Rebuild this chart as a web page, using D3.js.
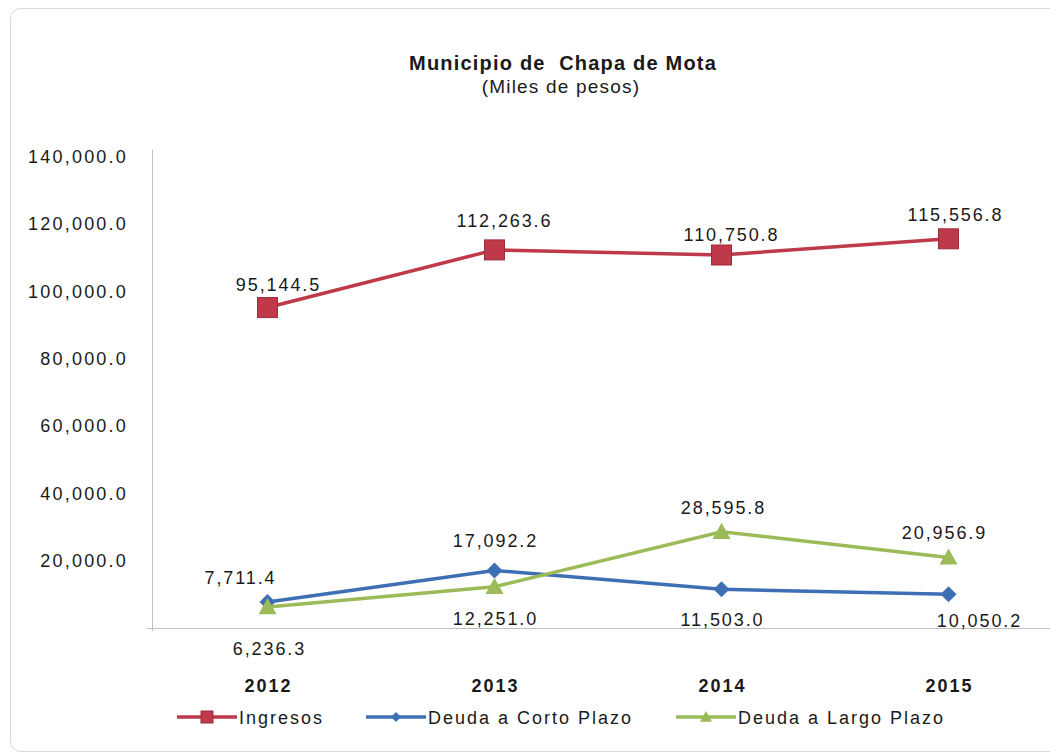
<!DOCTYPE html>
<html>
<head>
<meta charset="utf-8">
<script src="https://cdn.jsdelivr.net/npm/d3@7"></script>
<style>
  body { margin: 0; background: #fff; }
  text { font-family: "Liberation Sans", Arial, sans-serif; fill: #1a1a1a; }
</style>
</head>
<body>
<script>
var width = 1050, height = 755;

var years = ["2012", "2013", "2014", "2015"];
var ingresos = [95144.5, 112263.6, 110750.8, 115556.8];
var deudaCorto = [7711.4, 17092.2, 11503.0, 10050.2];
var deudaLargo = [6236.3, 12251.0, 28595.8, 20956.9];
var yTicks = [20000, 40000, 60000, 80000, 100000, 120000, 140000];
var seriesNames = ["Ingresos", "Deuda a Corto Plazo", "Deuda a Largo Plazo"];

// label offsets from each point [dx, dy to baseline]
var labelOffsets = [
  [[10, -17], [9, -23], [9, -14], [6, -18]],
  [[-28, -18], [0, -23], [0, 37], [30, 33]],
  [[1, 48], [0, 38], [1, -18], [-5, -18]]
];

var colors = ["#be3a4a", "#3e6fb5", "#9bbb59"];
var fmt = d3.format(",.1f");

const svg = d3.select("body").append("svg").attr("width", width).attr("height", height);

// outer frame
svg.append("rect").attr("x", 10.5).attr("y", 8.5).attr("width", 1060).attr("height", 743)
  .attr("rx", 10).attr("fill", "#fff").attr("stroke", "#d9d9d9");

svg.append("text").attr("x", 563).attr("y", 70).attr("text-anchor", "middle")
  .style("font-size", "20px").style("font-weight", "bold").style("letter-spacing", "1.2px")
  .style("white-space", "pre").text("Municipio de  Chapa de Mota");
svg.append("text").attr("x", 561).attr("y", 93).attr("text-anchor", "middle")
  .style("font-size", "19px").style("letter-spacing", "1.2px")
  .text("(Miles de pesos)");

const x = d3.scalePoint().domain(years).range([154, 1062]).padding(0.5);
const y = d3.scaleLinear().domain([0, 140000]).range([628, 156.5]);

// axes
svg.append("line").attr("x1", 152.5).attr("x2", 152.5).attr("y1", 150).attr("y2", 631)
  .attr("stroke", "#bfbfbf");
svg.append("line").attr("x1", 147).attr("x2", 1050).attr("y1", 628.5).attr("y2", 628.5)
  .attr("stroke", "#bfbfbf");

svg.selectAll(".ytick").data(yTicks).enter().append("text")
  .attr("class", "ytick")
  .attr("x", 128).attr("y", d => y(d) + 6.5)
  .attr("text-anchor", "end")
  .style("font-size", "18px").style("letter-spacing", "2.2px")
  .text(d => fmt(d));

svg.selectAll(".xtick").data(years).enter().append("text")
  .attr("class", "xtick")
  .attr("x", d => x(d) + 1).attr("y", 692)
  .attr("text-anchor", "middle")
  .style("font-size", "18px").style("font-weight", "bold").style("letter-spacing", "2px")
  .text(d => d);

var allSeries = [ingresos, deudaCorto, deudaLargo];
var line = d3.line().x((d, i) => x(years[i])).y(d => y(d));

function marker(g, k, cx, cy, s) {
  if (k === 0) {
    g.append("rect").attr("x", cx - s).attr("y", cy - s).attr("width", 2 * s).attr("height", 2 * s)
      .attr("fill", colors[0]).attr("stroke", "#9e2a3a").attr("stroke-width", 1);
  } else if (k === 1) {
    g.append("path").attr("d", `M${cx},${cy - s}L${cx + s},${cy}L${cx},${cy + s}L${cx - s},${cy}Z`)
      .attr("fill", colors[1]);
  } else {
    g.append("path").attr("d", `M${cx},${cy - s}L${cx + s},${cy + s * 0.8}L${cx - s},${cy + s * 0.8}Z`)
      .attr("fill", colors[2]);
  }
}

var sizes = [10, 8, 9];
var drawOrder = [1, 2, 0];
drawOrder.forEach(k => {
  var g = svg.append("g");
  g.append("path").datum(allSeries[k]).attr("d", line)
    .attr("fill", "none").attr("stroke", colors[k]).attr("stroke-width", 3.5);
  allSeries[k].forEach((v, i) => marker(g, k, x(years[i]), y(v), sizes[k]));
});

allSeries.forEach((vals, k) => {
  vals.forEach((v, i) => {
    var off = labelOffsets[k][i];
    svg.append("text")
      .attr("x", x(years[i]) + off[0] + 1).attr("y", y(v) + off[1])
      .attr("text-anchor", "middle")
      .style("font-size", "18px").style("letter-spacing", "1.9px")
      .text(fmt(v));
  });
});

// legend
var legendX = [177, 366, 676];
var legend = svg.selectAll(".leg").data(seriesNames).enter().append("g")
  .attr("transform", (d, i) => `translate(${legendX[i]},717)`);
legend.append("line").attr("x1", 0).attr("x2", 60).attr("y1", 0).attr("y2", 0)
  .attr("stroke", (d, i) => colors[i]).attr("stroke-width", 3.5);
legend.each(function (d, i) { marker(d3.select(this), i, 30, 0, i === 1 ? 5 : 6); });
legend.append("text").attr("x", 62).attr("y", 6.5)
  .style("font-size", "18px").style("letter-spacing", "2px").text(d => d);
</script>
</body>
</html>
